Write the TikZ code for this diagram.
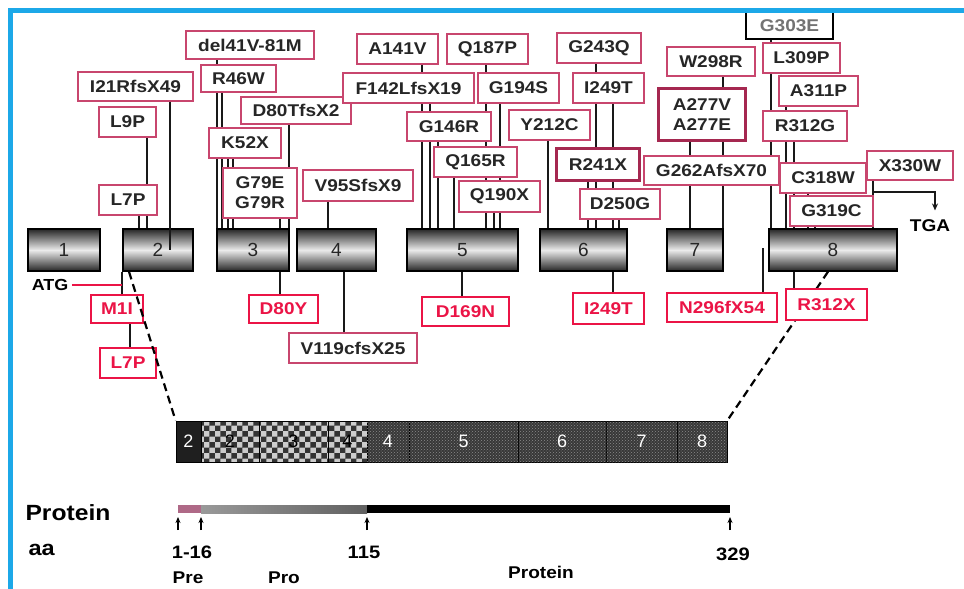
\documentclass[tikz,border=0pt]{standalone}
\usepackage{fontspec}
\setmainfont{Liberation Sans}
\newfontfamily\labfont[FakeStretch=1.12]{Liberation Sans}
\usetikzlibrary{patterns,arrows.meta}

\definecolor{frameblue}{RGB}{28,168,232}
\definecolor{mutpink}{RGB}{200,70,110}
\definecolor{mutred}{RGB}{235,20,70}
\definecolor{mutdark}{RGB}{165,40,80}
\definecolor{premauve}{RGB}{175,105,135}

\pgfdeclarelayer{bg}
\pgfsetlayers{bg,main}

\tikzset{
  lab/.style={font=\labfont\bfseries\fontsize{17}{20}\selectfont},
  sz/.style 2 args={minimum width=#1pt, minimum height=#2pt},
  mut/.style={lab, draw=mutpink, line width=1.3pt, fill=white, text=black!85,
    inner sep=0pt, align=center},
  mutred/.style={mut, draw=mutred, text=mutred},
  mutthick/.style={mut, draw=mutdark, line width=3.5pt},
  mutgray/.style={mut, draw=black, text=black!55},
  exon/.style={draw=black, line width=1.4pt, top color=black!85, bottom color=black!85,
    middle color=black!8, minimum height=42pt, inner sep=0pt,
    font=\fontsize{19}{20}\selectfont, text=black!85},
  seg/.style={draw=black, line width=0.8pt, minimum height=41pt, inner sep=0pt,
    font=\fontsize{18}{20}\selectfont},
  chk/.style={seg, preaction={fill=black!20}, pattern=checkerboard,
    pattern color=black!80, text=black},
  drk/.style={seg, fill=black!78, text=white,
    postaction={pattern=crosshatch dots, pattern color=black!45}},
  conn/.style={line width=1.8pt, black!90},
}

\begin{document}
\begin{tikzpicture}[x=1pt, y=-1pt]
  \useasboundingbox (0,0) rectangle (964,589);

  % exons
  \node[exon, minimum width=72pt]  (ex1) at (64,250) {1};
  \node[exon, minimum width=70pt]  (ex2) at (158,250) {2};
  \node[exon, minimum width=72pt]  (ex3) at (253,250) {3};
  \node[exon, minimum width=79pt]  (ex4) at (336.5,250) {4};
  \node[exon, minimum width=111pt] (ex5) at (462.5,250) {5};
  \node[exon, minimum width=87pt]  (ex6) at (583.5,250) {6};
  \node[exon, minimum width=56pt]  (ex7) at (695,250) {7};
  \node[exon, minimum width=128pt] (ex8) at (833,250) {8};

  % mutations above the exons
  \node[mut, sz={128}{28}] (del41) at (250,45) {del41V-81M};
  \node[mut, sz={115}{29}] (I21R) at (135.5,86.5) {I21RfsX49};
  \node[mut, sz={75}{27}]  (R46W) at (238.5,78.5) {R46W};
  \node[mut, sz={110}{27}] (D80T) at (296,110.5) {D80TfsX2};
  \node[mut, sz={57}{30}]  (L9P) at (127.5,122) {L9P};
  \node[mut, sz={72}{30}]  (K52X) at (245,143) {K52X};
  \node[mut, sz={74}{50}]  (G79) at (260,193) {G79E\\G79R};
  \node[mut, sz={110}{31}] (V95S) at (358,185.5) {V95SfsX9};
  \node[mut, sz={58}{30}]  (L7Pa) at (128,200) {L7P};
  \node[mut, sz={81}{30}]  (A141V) at (397.5,49) {A141V};
  \node[mut, sz={81}{30}]  (Q187P) at (487.5,49) {Q187P};
  \node[mut, sz={84}{30}]  (G243Q) at (599,48) {G243Q};
  \node[mut, sz={131}{30}] (F142L) at (408.5,88) {F142LfsX19};
  \node[mut, sz={81}{30}]  (G194S) at (518.5,88) {G194S};
  \node[mut, sz={71}{30}]  (I249Ta) at (608.5,88) {I249T};
  \node[mut, sz={84}{29}]  (G146R) at (449,126.5) {G146R};
  \node[mut, sz={81}{30}]  (Y212C) at (549.5,125) {Y212C};
  \node[mut, sz={83}{30}]  (Q165R) at (475.5,162) {Q165R};
  \node[mutthick, sz={83}{32}] (R241X) at (598,164.5) {R241X};
  \node[mut, sz={81}{31}]  (Q190X) at (499.5,196.5) {Q190X};
  \node[mut, sz={80}{30}]  (D250G) at (620,204) {D250G};
  \node[mutgray, sz={87}{27}] (G303E) at (789.5,25.5) {G303E};
  \node[mut, sz={88}{29}]  (W298R) at (711,61.5) {W298R};
  \node[mut, sz={77}{30}]  (L309P) at (801.5,58) {L309P};
  \node[mut, sz={79}{30}]  (A311P) at (818.5,91) {A311P};
  \node[mutthick, sz={87}{52}] (A277) at (702,114.5) {A277V\\A277E};
  \node[mut, sz={84}{30}]  (R312G) at (805,126) {R312G};
  \node[mut, sz={135}{29}] (G262A) at (711.5,170.5) {G262AfsX70};
  \node[mut, sz={86}{30}]  (C318W) at (823,178) {C318W};
  \node[mut, sz={86}{29}]  (X330W) at (910,165.5) {X330W};
  \node[mut, sz={83}{30}]  (G319C) at (831.5,211) {G319C};

  % mutations below the exons
  \node[mut, sz={128}{30}] (V119C) at (353,348) {V119cfsX25};
  \node[mutred, sz={52}{28}]  (M1I) at (117,309) {M1I};
  \node[mutred, sz={56}{30}]  (L7Pb) at (128,363) {L7P};
  \node[mutred, sz={69}{28}]  (D80Y) at (283.5,309) {D80Y};
  \node[mutred, sz={87}{29}]  (D169N) at (465.5,311.5) {D169N};
  \node[mutred, sz={71}{31}]  (I249Tb) at (608.5,308.5) {I249T};
  \node[mutred, sz={110}{29}] (N296f) at (722,307.5) {N296fX54};
  \node[mutred, sz={81}{31}]  (R312X) at (826.5,304.5) {R312X};

  \node[lab, font=\labfont\bfseries\fontsize{16}{18}\selectfont] (ATG) at (50,285) {ATG};
  \node[lab] (TGA) at (930,226) {TGA};
  \coordinate (tgaA) at (873,192);
  \coordinate (n296a) at (763,248);

  \begin{pgfonlayer}{bg}
    \draw[conn] (del41.south -| 217,0) -- (R46W.north -| 217,0);
    \foreach \cx in {217,222} \draw[conn] (R46W.south -| \cx,0) -- (ex3.north -| \cx,0);
    \foreach \cx in {228,233} \draw[conn] (K52X.south -| \cx,0) -- (ex3.north -| \cx,0);
    \draw[conn, line width=1.2pt] (D80T.south -| 289,0) -- (ex3.north -| 289,0);
    \draw[conn, line width=1.2pt] (G79.south -| 280,0) -- (ex3.north -| 280,0);
    \draw[conn] (L9P.south -| 147,0) -- (L7Pa.north -| 147,0);
    \foreach \cx in {139,147} \draw[conn] (L7Pa.south -| \cx,0) -- (ex2.north -| \cx,0);
    \draw[conn] (V95S.south -| 328,0) -- (ex4.north -| 328,0);
    \draw[conn] (A141V.south -| 422,0) -- (F142L.north -| 422,0);
    \foreach \cx in {422,430} \draw[conn] (F142L.south -| \cx,0) -- (ex5.north -| \cx,0);
    \draw[conn] (G146R.south -| 438,0) -- (ex5.north -| 438,0);
    \draw[conn] (Q165R.south -| 454,0) -- (ex5.north -| 454,0);
    \draw[conn] (Q187P.south -| 486,0) -- (G194S.north -| 486,0);
    \foreach \cx in {486,500} \draw[conn] (G194S.south -| \cx,0) -- (ex5.north -| \cx,0);
    \draw[conn] (Q190X.south -| 494,0) -- (ex5.north -| 494,0);
    \draw[conn] (G243Q.south -| 596,0) -- (I249Ta.north -| 596,0);
    \foreach \cx in {596,613} \draw[conn] (I249Ta.south -| \cx,0) -- (ex6.north -| \cx,0);
    \draw[conn] (R241X.south -| 588,0) -- (ex6.north -| 588,0);
    \draw[conn] (D250G.south -| 619,0) -- (ex6.north -| 619,0);
    \draw[conn] (Y212C.south -| 548,0) -- (ex6.north -| 548,0);
    \draw[conn] (W298R.south -| 723,0) -- (A277.north -| 723,0);
    \foreach \cx in {690,723} \draw[conn] (A277.south -| \cx,0) -- (ex7.north -| \cx,0);
    \draw[conn] (G303E.south -| 771,0) -- (L309P.north -| 771,0);
    \draw[conn] (L309P.south -| 771,0) -- (ex8.north -| 771,0);
    \draw[conn] (A311P.south -| 786,0) -- (R312G.north -| 786,0);
    \foreach \cx in {786,794} \draw[conn] (R312G.south -| \cx,0) -- (ex8.north -| \cx,0);
    \draw[conn] (C318W.south -| 808,0) -- (ex8.north -| 808,0);
    \draw[conn] (G319C.south -| 815,0) -- (ex8.north -| 815,0);
    \draw[conn] (X330W.south -| 873,0) -- (ex8.north -| 873,0);
    % below
    \draw[conn] (ex2.south west) -- (M1I.north -| ex2.west);
    \draw[conn] (M1I.south -| 130,0) -- (L7Pb.north -| 130,0);
    \draw[conn] (ex3.south -| 280,0) -- (D80Y.north -| 280,0);
    \draw[conn, line width=1.2pt] (ex4.south -| 344,0) -- (V119C.north -| 344,0);
    \draw[conn] (ex5.south -| 462,0) -- (D169N.north -| 462,0);
    \draw[conn] (ex6.south -| 613,0) -- (I249Tb.north -| 613,0);
    \draw[conn, line width=1.2pt] (n296a) -- (N296f.north -| n296a);
    \draw[conn] (ex8.south -| 794,0) -- (R312X.north -| 794,0);
    \draw[line width=2.2pt, dash pattern=on 8pt off 5pt] (ex8.south -| 828,0) -- (727,421);
  \end{pgfonlayer}

  \draw[conn] (I21R.south -| 170,0) -- (ex2.center -| 170,0);
  \draw[conn, line width=1.3pt, -{Stealth[length=7pt,width=6pt]}] (tgaA) -| ([yshift=6pt]TGA.north -| 935,0);
  \draw[mutred, line width=1.3pt] (ATG.east) -- (ATG.east -| ex2.west);

  % cDNA bar
  \node[seg, fill=black!88, text=white, minimum width=25pt] (p2a) at (188.5,441.5) {2};
  \node[chk, minimum width=58pt] (p2b) at (230,441.5) {2};
  \node[chk, minimum width=69pt] (p3a) at (293.5,441.5) {3};
  \node[chk, minimum width=39pt] (p4a) at (347.5,441.5) {4};
  \node[drk, minimum width=42pt] (p4b) at (388,441.5) {4};
  \node[drk, minimum width=109pt] (p5) at (463.5,441.5) {5};
  \node[drk, minimum width=88pt] (p6) at (562,441.5) {6};
  \node[drk, minimum width=71pt] (p7) at (641.5,441.5) {7};
  \node[drk, minimum width=50pt] (p8) at (702,441.5) {8};
  \draw[line width=2.2pt, dash pattern=on 8pt off 5pt] (ex2.south -| 129,0) -- (p2a.north west);

  % protein
  \fill[premauve] (178,505) rectangle (201,513);
  \shade[left color=black!40, right color=black!62] (201,505) rectangle (367,513);
  \fill[black] (367,505) rectangle (730,513);
  \node[inner sep=0pt, minimum width=552pt, minimum height=8pt] (prot) at (454,509) {};
  \foreach \ax in {178,201,367,730}
    \draw[line width=1.5pt, -{Stealth[length=6pt,width=5pt]}] (\ax,530) -- (\ax,517);

  \node[lab, font=\labfont\bfseries\fontsize{22}{24}\selectfont, anchor=west] (protlab) at (22,513) {Protein};
  \node[lab, font=\labfont\bfseries\fontsize{21}{24}\selectfont, anchor=west] (aalab) at (25,550) {aa};
  \node[lab, font=\labfont\bfseries\fontsize{18}{20}\selectfont] (aa1) at (192,552) {1-16};
  \node[lab, font=\labfont\bfseries\fontsize{18}{20}\selectfont] (aa115) at (364,552) {115};
  \node[lab, font=\labfont\bfseries\fontsize{18}{20}\selectfont] (aa329) at (733,554) {329};
  \node[lab] (pre) at (188,578) {Pre};
  \node[lab] (pro) at (284,578) {Pro};
  \node[lab] (mat) at (541,572) {Protein};

  % frame
  \draw[frameblue, line width=4.5pt] (10.5,589) -- (10.5,10.5) -- (964,10.5);
\end{tikzpicture}
\end{document}
